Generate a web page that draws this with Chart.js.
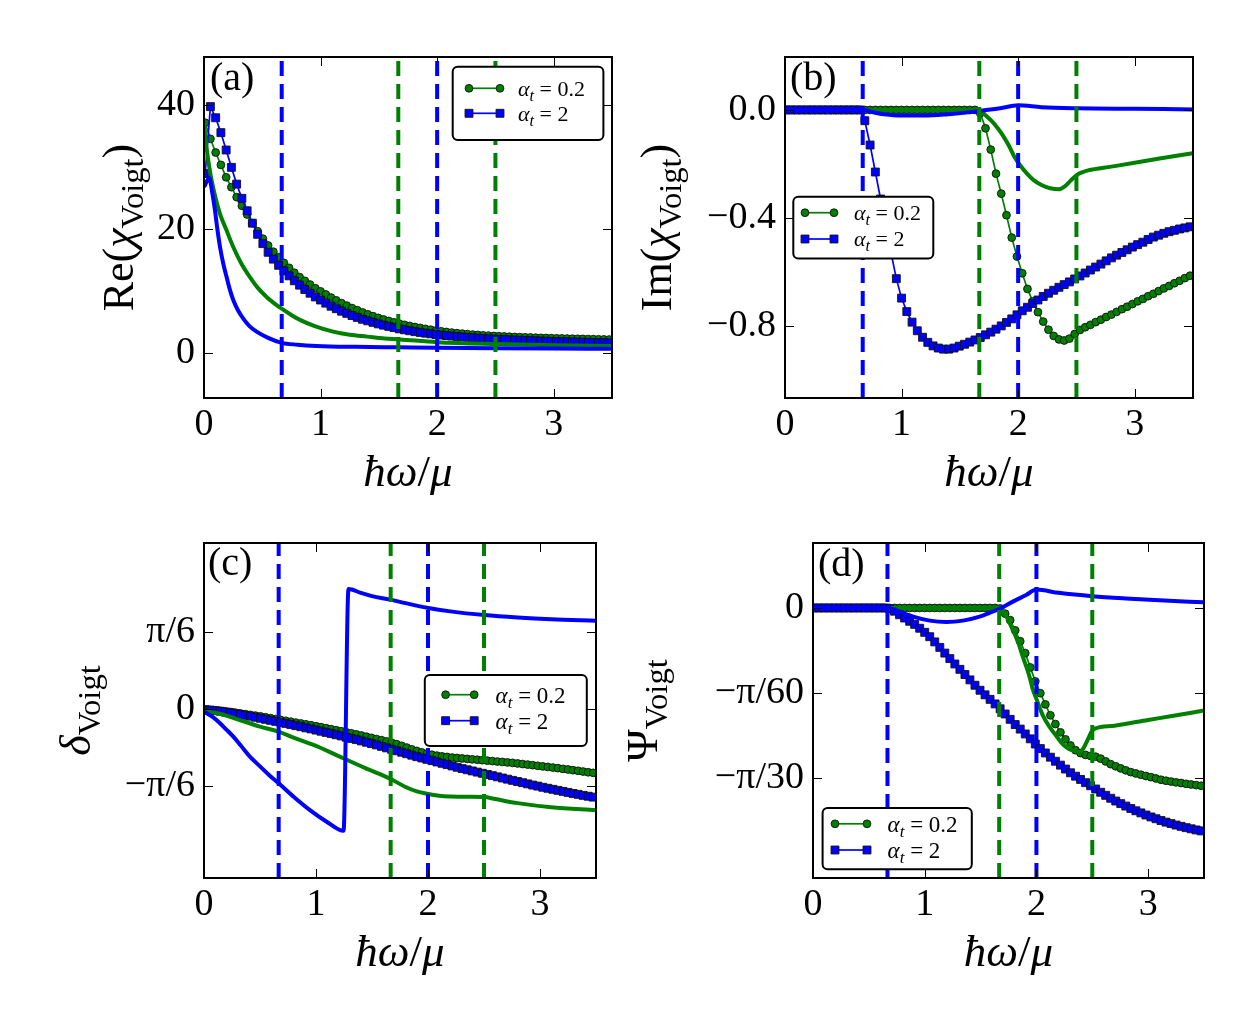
<!DOCTYPE html>
<html>
<head>
<meta charset="utf-8">
<title>Voigt response</title>
<script src="https://cdn.jsdelivr.net/npm/chart.js@4.4.1/dist/chart.umd.min.js"></script>
<style>
  html, body { margin:0; padding:0; background:#fff; }
  #fig { position:relative; width:1242px; height:1017px; background:#fff; overflow:hidden; }
  #fig canvas { position:absolute; }
</style>
</head>
<body>
<div id="fig">
  <canvas id="pa" width="621" height="508" style="left:0;top:0;width:621px;height:508px"></canvas>
  <canvas id="pb" width="621" height="508" style="left:621px;top:0;width:621px;height:508px"></canvas>
  <canvas id="pc" width="621" height="509" style="left:0;top:508px;width:621px;height:509px"></canvas>
  <canvas id="pd" width="621" height="509" style="left:621px;top:508px;width:621px;height:509px"></canvas>
</div>
<script>
// ---------------- DATA ----------------
// frequency grid of the marker series (hbar*omega/mu)
const omega = [
  0.01, 0.055, 0.1, 0.145, 0.19, 0.235, 0.28, 0.325, 0.37, 0.415,
  0.46, 0.505, 0.55, 0.595, 0.64, 0.685, 0.73, 0.775, 0.82, 0.865,
  0.91, 0.955, 1.0, 1.045, 1.09, 1.135, 1.18, 1.225, 1.27, 1.315,
  1.36, 1.405, 1.45, 1.495, 1.54, 1.585, 1.63, 1.675, 1.72, 1.765,
  1.81, 1.855, 1.9, 1.945, 1.99, 2.035, 2.08, 2.125, 2.17, 2.215,
  2.26, 2.305, 2.35, 2.395, 2.44, 2.485, 2.53, 2.575, 2.62, 2.665,
  2.71, 2.755, 2.8, 2.845, 2.89, 2.935, 2.98, 3.025, 3.07, 3.115,
  3.16, 3.205, 3.25, 3.295, 3.34, 3.385, 3.43, 3.475];

// (a) Re(chi_Voigt)
const reChi_at02 = [
  37.2, 34.6, 32.4, 30.4, 28.4, 26.8, 25.2, 23.8, 22.4, 21.0,
  19.7, 18.5, 17.4, 16.4, 15.5, 14.6, 13.8, 13.0, 12.3, 11.7,
  11.1, 10.5, 10.0, 9.5, 9.0, 8.55, 8.1, 7.7, 7.3, 6.95,
  6.6, 6.3, 6.0, 5.72, 5.46, 5.22, 5.0, 4.8, 4.6, 4.42,
  4.25, 4.1, 3.95, 3.81, 3.68, 3.56, 3.45, 3.35, 3.26, 3.18,
  3.1, 3.03, 2.97, 2.91, 2.86, 2.81, 2.77, 2.73, 2.69, 2.65,
  2.62, 2.59, 2.56, 2.53, 2.5, 2.48, 2.45, 2.43, 2.41, 2.39,
  2.37, 2.35, 2.33, 2.31, 2.29, 2.27, 2.25, 2.23];
const reChi_at2 = [
  29.0, 39.8, 38.0, 35.6, 32.8, 30.0, 27.3, 25.0, 23.0, 21.0,
  19.2, 17.7, 16.3, 15.2, 14.2, 13.3, 12.5, 11.7, 11.0, 10.3,
  9.7, 9.1, 8.6, 8.1, 7.6, 7.2, 6.8, 6.45, 6.1, 5.8,
  5.5, 5.25, 5.0, 4.75, 4.55, 4.35, 4.15, 3.95, 3.8, 3.65,
  3.5, 3.38, 3.26, 3.15, 3.04, 2.95, 2.87, 2.79, 2.72, 2.65,
  2.58, 2.52, 2.46, 2.41, 2.36, 2.31, 2.27, 2.23, 2.19, 2.15,
  2.11, 2.08, 2.05, 2.02, 1.99, 1.96, 1.93, 1.91, 1.88, 1.86,
  1.84, 1.82, 1.8, 1.78, 1.76, 1.74, 1.72, 1.7];
const reChiGreenX = [0, 0.02, 0.05, 0.09, 0.137, 0.19, 0.25, 0.32, 0.394, 0.46, 0.537, 0.6, 0.666, 0.74, 0.823, 0.95, 1.108, 1.25, 1.4, 1.55, 1.68, 2.0, 2.5, 3.0, 3.5];
const reChiGreenY = [37.5, 33.5, 29.5, 25.8, 22.5, 20.0, 17.2, 14.5, 12.3, 10.6, 9.1, 8.1, 7.2, 6.3, 5.4, 4.4, 3.5, 3.0, 2.7, 2.4, 2.25, 1.8, 1.5, 1.32, 1.2];
const reChiBlueX = [0.005, 0.045, 0.07, 0.094, 0.115, 0.137, 0.165, 0.194, 0.22, 0.251, 0.29, 0.337, 0.39, 0.451, 0.55, 0.666, 0.8, 0.966, 1.3, 1.68, 2.0, 2.5, 3.0, 3.5];
const reChiBlueY = [27.0, 28.3, 26.0, 23.1, 20.0, 17.2, 14.5, 12.3, 10.4, 8.6, 7.0, 5.6, 4.4, 3.5, 2.5, 1.7, 1.4, 1.2, 1.05, 0.97, 0.9, 0.83, 0.78, 0.75];

// (b) Im(chi_Voigt)
const imChi_at02 = [
  0, 0, 0, 0, 0, 0, 0, 0, 0, 0,
  0, 0, 0, 0, 0, 0, 0, 0, 0, 0,
  0, 0, 0, 0, 0, 0, 0, 0, 0, 0,
  0, 0, 0, 0, 0, 0, 0, -0.012, -0.068, -0.147,
  -0.236, -0.31, -0.39, -0.473, -0.543, -0.605, -0.663, -0.709, -0.749, -0.784,
  -0.814, -0.837, -0.85, -0.854, -0.847, -0.83, -0.815, -0.805, -0.796, -0.786,
  -0.777, -0.767, -0.758, -0.748, -0.738, -0.729, -0.719, -0.709, -0.7, -0.69,
  -0.681, -0.671, -0.661, -0.652, -0.642, -0.633, -0.623, -0.614];
const imChi_at2 = [
  0, 0, 0, 0, 0, 0, 0, 0, 0, 0,
  0, 0, 0, 0, 0, -0.04, -0.13, -0.23, -0.33, -0.43,
  -0.53, -0.625, -0.697, -0.747, -0.786, -0.818, -0.842, -0.861, -0.874, -0.882,
  -0.886, -0.886, -0.882, -0.875, -0.868, -0.86, -0.852, -0.843, -0.833, -0.823,
  -0.812, -0.8, -0.787, -0.774, -0.759, -0.744, -0.731, -0.717, -0.704, -0.691,
  -0.679, -0.668, -0.657, -0.647, -0.637, -0.626, -0.615, -0.604, -0.593, -0.582,
  -0.571, -0.559, -0.548, -0.538, -0.528, -0.518, -0.508, -0.499, -0.49, -0.48,
  -0.471, -0.464, -0.457, -0.451, -0.446, -0.441, -0.437, -0.433];
const imChiGreenX = [0, 1.667, 1.72, 1.77, 1.82, 1.87, 1.92, 1.97, 2.02, 2.08, 2.13, 2.2, 2.275, 2.347, 2.4, 2.45, 2.5, 2.55, 2.6, 2.8, 3.0, 3.2, 3.5];
const imChiGreenY = [0, 0, -0.02, -0.04, -0.065, -0.095, -0.132, -0.175, -0.207, -0.238, -0.259, -0.278, -0.29, -0.294, -0.283, -0.262, -0.242, -0.231, -0.224, -0.21, -0.196, -0.181, -0.16];
const imChiBlueX = [0, 0.667, 0.75, 0.85, 1.0, 1.2, 1.4, 1.55, 1.667, 1.845, 2.0, 2.2, 2.5, 3.0, 3.5];
const imChiBlueY = [0, 0, -0.008, -0.016, -0.021, -0.021, -0.016, -0.01, -0.004, 0.006, 0.017, 0.01, 0.006, 0.004, 0.002];

// (c) delta_Voigt (rad)
const delta_at02 = [
  -0.004, -0.006, -0.009, -0.012, -0.016, -0.02, -0.025, -0.03, -0.035, -0.04,
  -0.045, -0.05, -0.056, -0.062, -0.068, -0.074, -0.08, -0.086, -0.092, -0.098,
  -0.104, -0.11, -0.117, -0.123, -0.13, -0.137, -0.144, -0.151, -0.158, -0.165,
  -0.172, -0.18, -0.188, -0.196, -0.204, -0.212, -0.22, -0.229, -0.239, -0.25,
  -0.262, -0.274, -0.285, -0.295, -0.304, -0.311, -0.317, -0.322, -0.326, -0.33,
  -0.333, -0.336, -0.339, -0.342, -0.345, -0.348, -0.351, -0.354, -0.357, -0.36,
  -0.363, -0.366, -0.37, -0.374, -0.378, -0.382, -0.386, -0.39, -0.394, -0.398,
  -0.402, -0.407, -0.411, -0.416, -0.42, -0.425, -0.43, -0.434];
const delta_at2 = [
  -0.004, -0.007, -0.011, -0.015, -0.02, -0.025, -0.031, -0.037, -0.043, -0.049,
  -0.056, -0.063, -0.07, -0.077, -0.084, -0.091, -0.098, -0.105, -0.113, -0.12,
  -0.128, -0.135, -0.143, -0.151, -0.159, -0.167, -0.175, -0.183, -0.192, -0.2,
  -0.208, -0.217, -0.226, -0.235, -0.244, -0.254, -0.264, -0.274, -0.284, -0.294,
  -0.304, -0.314, -0.324, -0.333, -0.342, -0.351, -0.36, -0.369, -0.378, -0.387,
  -0.396, -0.405, -0.413, -0.421, -0.429, -0.437, -0.445, -0.453, -0.461, -0.469,
  -0.477, -0.485, -0.493, -0.501, -0.509, -0.517, -0.524, -0.532, -0.539, -0.546,
  -0.553, -0.56, -0.567, -0.574, -0.58, -0.587, -0.593, -0.599];
const deltaGreenX = [0, 0.1, 0.2, 0.3, 0.4, 0.5, 0.664, 0.8, 1.0, 1.244, 1.45, 1.66, 1.8, 1.9, 1.99, 2.1, 2.2, 2.35, 2.5, 2.6, 2.8, 3.1, 3.5];
const deltaGreenY = [-0.015, -0.025, -0.045, -0.07, -0.095, -0.12, -0.154, -0.195, -0.25, -0.335, -0.405, -0.473, -0.53, -0.56, -0.576, -0.59, -0.595, -0.597, -0.598, -0.612, -0.64, -0.668, -0.688];
const deltaBlueX = [0, 0.024, 0.08, 0.143, 0.2, 0.262, 0.33, 0.41, 0.5, 0.58, 0.667, 0.8, 0.946, 1.095, 1.246, 1.29, 1.4, 1.5, 1.661, 1.8, 2.003, 2.2, 2.5, 2.8, 3.1, 3.5];
const deltaBlueY = [-0.02, -0.029, -0.055, -0.097, -0.14, -0.188, -0.25, -0.324, -0.39, -0.448, -0.505, -0.596, -0.687, -0.766, -0.828, 0.816, 0.79, 0.768, 0.744, 0.72, 0.687, 0.664, 0.639, 0.622, 0.61, 0.601];

// (d) Psi_Voigt (rad)
const psi_at02 = [
  0, 0, 0, 0, 0, 0, 0, 0, 0, 0,
  0, 0, 0, 0, 0, 0, 0, 0, 0, 0,
  0, 0, 0, 0, 0, 0, 0, 0, 0, 0,
  0, 0, 0, 0, 0, 0, 0, -0.0003, -0.0035, -0.0075,
  -0.0138, -0.0205, -0.0278, -0.0366, -0.0452, -0.0525, -0.0594, -0.0661, -0.0715, -0.0766,
  -0.0809, -0.0847, -0.0876, -0.0894, -0.0905, -0.0911, -0.0916, -0.0928, -0.0945, -0.0962,
  -0.0975, -0.0988, -0.1, -0.1011, -0.1019, -0.1027, -0.1035, -0.1042, -0.105, -0.1058,
  -0.1064, -0.1069, -0.1074, -0.1078, -0.1083, -0.1087, -0.1091, -0.1095];
const psi_at2 = [
  0, 0, 0, 0, 0, 0, 0, 0, 0, 0,
  0, 0, 0, 0, 0, -0.0005, -0.002, -0.0042, -0.0062, -0.0082,
  -0.0101, -0.0125, -0.015, -0.0177, -0.0209, -0.0243, -0.0278, -0.0312, -0.0345, -0.0378,
  -0.041, -0.0443, -0.0476, -0.0507, -0.0535, -0.0563, -0.0591, -0.0621, -0.0653, -0.0686,
  -0.0718, -0.0746, -0.0776, -0.0806, -0.0838, -0.0866, -0.0893, -0.0919, -0.0944, -0.0968,
  -0.0992, -0.1015, -0.1036, -0.1056, -0.1076, -0.1095, -0.1115, -0.1135, -0.1154, -0.1172,
  -0.1189, -0.1205, -0.122, -0.1235, -0.1249, -0.1262, -0.1275, -0.1287, -0.1298, -0.1309,
  -0.1319, -0.1328, -0.1337, -0.1345, -0.1353, -0.136, -0.1367, -0.1373];
const psiGreenX = [0, 1.667, 1.72, 1.789, 1.84, 1.878, 1.938, 1.967, 2.0, 2.056, 2.116, 2.18, 2.235, 2.29, 2.35, 2.39, 2.42, 2.46, 2.5, 2.53, 2.7, 3.0, 3.2, 3.5];
const psiGreenY = [0, 0, -0.004, -0.0136, -0.022, -0.03, -0.0423, -0.05, -0.056, -0.066, -0.0731, -0.079, -0.0839, -0.0868, -0.0882, -0.0888, -0.0865, -0.081, -0.0755, -0.0742, -0.0725, -0.069, -0.0667, -0.0632];
const psiBlueX = [0, 0.667, 0.72, 0.777, 0.896, 1.045, 1.194, 1.342, 1.491, 1.58, 1.66, 1.789, 1.908, 2.0, 2.2, 2.5, 2.8, 3.1, 3.5];
const psiBlueY = [0, 0, -0.0008, -0.0023, -0.0053, -0.0078, -0.0086, -0.0078, -0.0053, -0.003, -0.0008, 0.0039, 0.008, 0.0113, 0.0093, 0.0072, 0.0058, 0.0047, 0.0035];

// threshold frequencies (vertical dashed lines)
const thresholdsBlue = [0.6667, 2.0];
const thresholdsGreen = [1.6667, 2.5];

// axes
const xRange = [0, 3.5];
const xTickValues = [0, 1, 2, 3];
const xTickLabels = ['0', '1', '2', '3'];
const reRange = [-7.2, 47.8];
const reTickValues = [0, 20, 40];
const reTickLabels = ['0', '20', '40'];
const imRange = [-1.067, 0.196];
const imTickValues = [0, -0.4, -0.8];
const imTickLabels = ['0.0', '\u22120.4', '\u22120.8'];
const deltaRange = [-1.149, 1.129];
const deltaTickValues = [-Math.PI / 6, 0, Math.PI / 6];
const deltaTickLabels = ['\u2212\u03C0/6', '0', '\u03C0/6'];
const psiRange = [-0.1663, 0.040];
const psiTickValues = [-Math.PI / 30, -Math.PI / 60, 0];
const psiTickLabels = ['\u2212\u03C0/30', '\u2212\u03C0/60', '0'];

const seriesLabels = ['\u03B1t = 0.2', '\u03B1t = 2'];
const panelLabels = ['(a)', '(b)', '(c)', '(d)'];

// ---------------- RENDERING ----------------
const GREEN = '#008000', BLUE = '#0000ff';
const FONT = '"Liberation Serif", "DejaVu Serif", serif';
const SUB = 0.74;

function fontFor(style, F) {
  const sub = style.indexOf('sub') === 0;
  return (style.indexOf('it') >= 0 ? 'italic ' : '') + (sub ? (F * SUB).toFixed(1) : F) + 'px ' + FONT;
}
function drawRich(ctx, parts, x, y, F, align, rotate) {
  ctx.save();
  ctx.translate(x, y);
  if (rotate) ctx.rotate(-Math.PI / 2);
  let w = 0;
  for (const [t, s] of parts) { ctx.font = fontFor(s, F); w += ctx.measureText(t).width; }
  let cx = align === 'center' ? -w / 2 : 0;
  ctx.textAlign = 'left'; ctx.textBaseline = 'alphabetic'; ctx.fillStyle = '#000';
  for (const [t, s] of parts) {
    ctx.font = fontFor(s, F);
    ctx.fillText(t, cx, s.indexOf('sub') === 0 ? F * 0.22 : 0);
    cx += ctx.measureText(t).width;
  }
  ctx.restore();
}
function roundRectPath(ctx, x, y, w, h, r) {
  ctx.beginPath();
  ctx.moveTo(x + r, y);
  ctx.lineTo(x + w - r, y); ctx.arcTo(x + w, y, x + w, y + r, r);
  ctx.lineTo(x + w, y + h - r); ctx.arcTo(x + w, y + h, x + w - r, y + h, r);
  ctx.lineTo(x + r, y + h); ctx.arcTo(x, y + h, x, y + h - r, r);
  ctx.lineTo(x, y + r); ctx.arcTo(x, y, x + r, y, r);
  ctx.closePath();
}

const decorations = {
  id: 'decorations',
  afterDraw(chart, args, o) {
    const ctx = chart.ctx, a = chart.chartArea, xs = chart.scales.x, ys = chart.scales.y;
    ctx.save();
    // inward tick marks on all four sides
    ctx.strokeStyle = '#000'; ctx.lineWidth = 1; ctx.setLineDash([]);
    ctx.beginPath();
    for (const t of xs.ticks) {
      const p = Math.round(xs.getPixelForValue(t.value)) + 0.5;
      ctx.moveTo(p, a.bottom); ctx.lineTo(p, a.bottom - 9);
      ctx.moveTo(p, a.top); ctx.lineTo(p, a.top + 9);
    }
    for (const t of ys.ticks) {
      const p = Math.round(ys.getPixelForValue(t.value)) + 0.5;
      ctx.moveTo(a.left, p); ctx.lineTo(a.left + 9, p);
      ctx.moveTo(a.right, p); ctx.lineTo(a.right - 9, p);
    }
    ctx.stroke();
    // frame
    ctx.lineWidth = 2;
    ctx.strokeRect(a.left, a.top, a.right - a.left, a.bottom - a.top);
    // legend
    const L = o.legend;
    roundRectPath(ctx, a.left + L.box[0], a.top + L.box[1], L.box[2], L.box[3], 5);
    ctx.fillStyle = '#fff'; ctx.fill();
    ctx.lineWidth = 2; ctx.strokeStyle = '#000'; ctx.stroke();
    L.items.forEach((it, k) => {
      const ds = chart.data.datasets.find(d => d.key === it.key);
      const y = a.top + L.rows[k];
      const x1 = a.left + L.line[0], x2 = a.left + L.line[1];
      ctx.strokeStyle = ds.borderColor; ctx.lineWidth = ds.borderWidth;
      ctx.beginPath(); ctx.moveTo(x1, y); ctx.lineTo(x2, y); ctx.stroke();
      ctx.fillStyle = ds.pointBackgroundColor; ctx.strokeStyle = ds.pointBorderColor; ctx.lineWidth = ds.pointBorderWidth;
      for (const px of [x1, x2]) {
        Chart.helpers.drawPoint(ctx, { pointStyle: ds.pointStyle, radius: ds.pointRadius, borderWidth: ds.pointBorderWidth, rotation: 0 }, px, y);
      }
      const lbl = ds.label; // 'αt = ...'
      const parts = [[lbl.charAt(0), 'it'], [lbl.charAt(1), 'subit'], [lbl.slice(2), 'rm']];
      drawRich(ctx, parts, a.left + L.textX, y + L.font * 0.34, L.font, 'left', false);
    });
    // panel label
    drawRich(ctx, [[o.panelLabel, 'rm']], a.left + o.panelLabelPos[0], a.top + o.panelLabelPos[1], 40, 'left', false);
    // axis titles
    drawRich(ctx, o.yTitle, a.left + o.yTitleOffset, (a.top + a.bottom) / 2, 44, 'center', true);
    drawRich(ctx, o.xTitle, (a.left + a.right) / 2, a.bottom + 88, 45, 'center', false);
    ctx.restore();
  }
};

function pts(xs, ys) { return xs.map((x, i) => ({ x: x, y: ys[i] })); }
// draw order: lower "order" is painted later (on top)
function markerSet(key, label, ys, color, style, order) {
  return {
    key, label, data: pts(omega, ys), borderColor: color, backgroundColor: color,
    borderWidth: 1.7, pointStyle: style, pointRadius: style === 'rect' ? 5.6 : 3.9,
    pointBackgroundColor: color, pointBorderColor: '#111', pointBorderWidth: 0.9,
    order, clip: 0, tension: 0
  };
}
function plainSet(key, xs, ys, color, order) {
  return { key, label: '', data: pts(xs, ys), borderColor: color, backgroundColor: color,
    borderWidth: 4, pointRadius: 0, order, clip: 0, cubicInterpolationMode: 'monotone',
    borderJoinStyle: 'round', borderCapStyle: 'round' };
}
function vlineSet(x, color, yr) {
  return { key: 'v' + x, label: '', data: [{ x: x, y: yr[0] }, { x: x, y: yr[1] }], borderColor: color,
    borderWidth: 4, borderDash: [15, 8], borderCapStyle: 'butt', pointRadius: 0, order: 0, clip: 0, tension: 0 };
}

const xTitle = [['\u0127\u03C9', 'it'], ['/', 'rm'], ['\u03BC', 'it']];

function makePanel(id, s) {
  const datasets = [];
  thresholdsBlue.forEach(v => datasets.push(vlineSet(v, BLUE, s.yRange)));
  thresholdsGreen.forEach(v => datasets.push(vlineSet(v, GREEN, s.yRange)));
  datasets.push(markerSet('m02', seriesLabels[0], s.m02, GREEN, 'circle', 5));
  datasets.push(markerSet('m2', seriesLabels[1], s.m2, BLUE, 'rect', 4));
  datasets.push(plainSet('pg', s.gx, s.gy, GREEN, 3));
  datasets.push(plainSet('pb', s.bx, s.by, BLUE, 2));
  const tickFont = { family: FONT, size: 38 };
  return new Chart(document.getElementById(id), {
    type: 'line',
    data: { datasets },
    plugins: [decorations],
    options: {
      responsive: false, animation: false, devicePixelRatio: 1, events: [],
      layout: { autoPadding: false, padding: { left: 0, top: s.padTop, right: s.padRight, bottom: 0 } },
      plugins: {
        legend: { display: false }, tooltip: { enabled: false },
        decorations: { legend: s.legend, panelLabel: s.panelLabel, panelLabelPos: s.panelLabelPos,
          yTitle: s.yTitle, yTitleOffset: s.yTitleOffset, xTitle: xTitle }
      },
      scales: {
        x: {
          type: 'linear', min: xRange[0], max: xRange[1],
          grid: { display: false, drawTicks: false }, border: { display: false },
          afterBuildTicks: sc => { sc.ticks = xTickValues.map(v => ({ value: v })); },
          afterFit: sc => { sc.height = s.xAxisH; sc.paddingLeft = 0; sc.paddingRight = 0; },
          ticks: { font: tickFont, color: '#000', padding: 4, maxRotation: 0, autoSkip: false,
            callback: (v, i) => xTickLabels[i] }
        },
        y: {
          type: 'linear', min: s.yRange[0], max: s.yRange[1],
          grid: { display: false, drawTicks: false }, border: { display: false },
          afterBuildTicks: sc => { sc.ticks = s.yTicks.map(v => ({ value: v })); },
          afterFit: sc => { sc.width = s.yAxisW; sc.paddingTop = 0; sc.paddingBottom = 0; },
          ticks: { font: tickFont, color: '#000', padding: 9, autoSkip: false,
            callback: (v, i) => s.yTickLabels[i] }
        }
      }
    }
  });
}

makePanel('pa', {
  yRange: reRange, yTicks: reTickValues, yTickLabels: reTickLabels,
  m02: reChi_at02, m2: reChi_at2, gx: reChiGreenX, gy: reChiGreenY, bx: reChiBlueX, by: reChiBlueY,
  padTop: 57, padRight: 9, yAxisW: 204, xAxisH: 110,
  yTitle: [['Re(', 'rm'], ['\u03C7', 'it'], ['Voigt', 'sub'], [')', 'rm']], yTitleOffset: -71,
  panelLabel: panelLabels[0], panelLabelPos: [6, 33],
  legend: { box: [248.7, 9.7, 150.7, 73.3], rows: [31.3, 56.3], line: [265, 296], textX: 314, font: 22,
    items: [{ key: 'm02' }, { key: 'm2' }] }
});
makePanel('pb', {
  yRange: imRange, yTicks: imTickValues, yTickLabels: imTickLabels,
  m02: imChi_at02, m2: imChi_at2, gx: imChiGreenX, gy: imChiGreenY, bx: imChiBlueX, by: imChiBlueY,
  padTop: 57, padRight: 49, yAxisW: 164, xAxisH: 110,
  yTitle: [['Im(', 'rm'], ['\u03C7', 'it'], ['Voigt', 'sub'], [')', 'rm']], yTitleOffset: -114,
  panelLabel: panelLabels[1], panelLabelPos: [5, 33],
  legend: { box: [8.3, 139.7, 140, 61.7], rows: [155.7, 182], line: [20, 49], textX: 69, font: 22,
    items: [{ key: 'm02' }, { key: 'm2' }] }
});
makePanel('pc', {
  yRange: deltaRange, yTicks: deltaTickValues, yTickLabels: deltaTickLabels,
  m02: delta_at02, m2: delta_at2, gx: deltaGreenX, gy: deltaGreenY, bx: deltaBlueX, by: deltaBlueY,
  padTop: 35, padRight: 25, yAxisW: 204, xAxisH: 139,
  yTitle: [['\u03B4', 'it'], ['Voigt', 'sub']], yTitleOffset: -114,
  panelLabel: panelLabels[2], panelLabelPos: [4, 32],
  legend: { box: [220.8, 132, 162, 71], rows: [151.7, 177.7], line: [241.6, 270.2], textX: 291.6, font: 23,
    items: [{ key: 'm02' }, { key: 'm2' }] }
});
makePanel('pd', {
  yRange: psiRange, yTicks: psiTickValues, yTickLabels: psiTickLabels,
  m02: psi_at02, m2: psi_at2, gx: psiGreenX, gy: psiGreenY, bx: psiBlueX, by: psiBlueY,
  padTop: 35, padRight: 38, yAxisW: 192, xAxisH: 139,
  yTitle: [['\u03A8', 'rm'], ['Voigt', 'sub']], yTitleOffset: -156,
  panelLabel: panelLabels[3], panelLabelPos: [5, 33],
  legend: { box: [9.6, 265.1, 149.2, 61.2], rows: [280.8, 307], line: [22, 54], textX: 74.6, font: 23,
    items: [{ key: 'm02' }, { key: 'm2' }] }
});
</script>
</body>
</html>
